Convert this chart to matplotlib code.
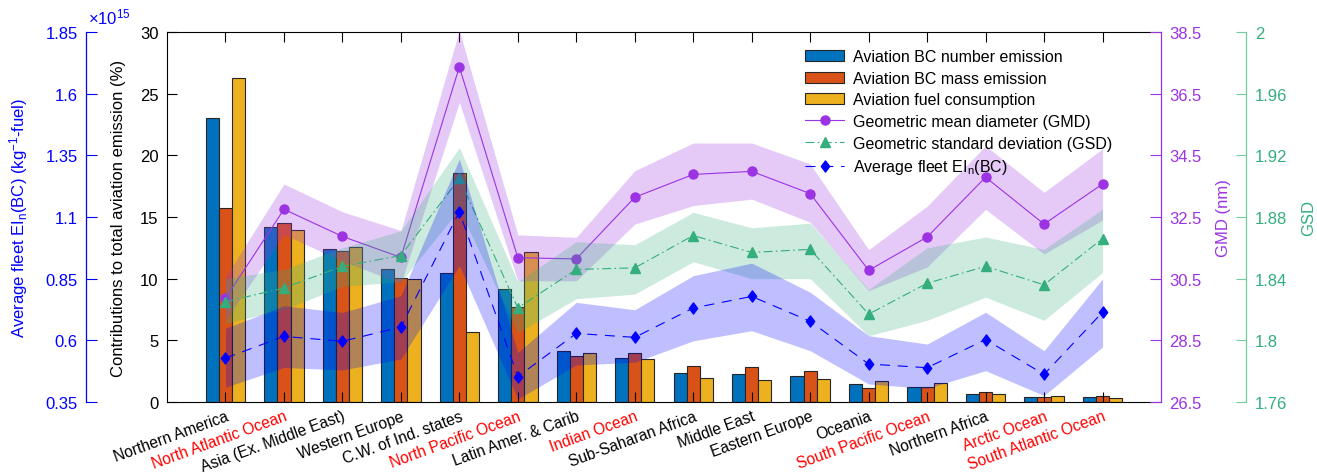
import matplotlib
matplotlib.use('Agg')
import matplotlib.pyplot as plt
import numpy as np
from matplotlib.path import Path

plt.rcParams['font.family'] = ['Liberation Sans', 'DejaVu Sans']
plt.rcParams['mathtext.fontset'] = 'custom'
plt.rcParams['mathtext.rm'] = 'Liberation Sans'
plt.rcParams['mathtext.it'] = 'Liberation Sans:italic'
plt.rcParams['mathtext.bf'] = 'Liberation Sans:bold'

# ---------------- data ----------------
regions = ['Northern America', 'North Atlantic Ocean', 'Asia (Ex. Middle East)',
           'Western Europe', 'C.W. of Ind. states', 'North Pacific Ocean',
           'Latin Amer. & Carib', 'Indian Ocean', 'Sub-Saharan Africa',
           'Middle East', 'Eastern Europe', 'Oceania', 'South Pacific Ocean',
           'Northern Africa', 'Arctic Ocean', 'South Atlantic Ocean']
is_ocean = [False, True, False, False, False, True, False, True, False,
            False, False, False, True, False, True, True]

bc_number = [23.0, 14.17, 12.4, 10.79, 10.5, 9.16, 4.14, 3.54, 2.35, 2.27,
             2.11, 1.43, 1.19, 0.65, 0.41, 0.41]
bc_mass = [15.73, 14.52, 12.22, 10.06, 18.6, 7.73, 3.76, 3.97, 2.92, 2.81,
           2.51, 1.14, 1.19, 0.78, 0.41, 0.49]
fuel = [26.25, 13.95, 12.6, 9.97, 5.65, 12.2, 3.97, 3.49, 1.95, 1.78,
        1.89, 1.68, 1.51, 0.65, 0.49, 0.32]

gmd = [29.86, 32.75, 31.87, 31.19, 37.37, 31.18, 31.14, 33.14, 33.88, 33.98,
       33.26, 30.77, 31.85, 33.79, 32.27, 33.57]
gmd_hi = [30.55, 33.57, 32.67, 32.06, 38.55, 31.92, 31.84, 34.0, 34.9, 34.9,
          34.22, 31.44, 32.85, 34.81, 33.3, 34.71]
gmd_lo = [29.15, 31.93, 31.07, 30.35, 36.22, 30.43, 30.43, 32.27, 32.87, 33.08,
          32.33, 30.11, 30.88, 32.75, 31.3, 32.4]

gsd = [1.825, 1.834, 1.848, 1.855, 1.905, 1.821, 1.846, 1.847, 1.868, 1.857,
       1.859, 1.817, 1.837, 1.848, 1.836, 1.866]
gsd_hi = [1.840, 1.846, 1.860, 1.871, 1.925, 1.838, 1.864, 1.862, 1.883, 1.873,
          1.876, 1.833, 1.860, 1.867, 1.859, 1.885]
gsd_lo = [1.811, 1.820, 1.835, 1.838, 1.885, 1.805, 1.827, 1.830, 1.851, 1.840,
          1.840, 1.803, 1.813, 1.828, 1.813, 1.844]

# average fleet EI_n(BC), in units of 1e15 per kg fuel
ei = [0.528, 0.616, 0.596, 0.654, 1.121, 0.453, 0.628, 0.612, 0.731, 0.778,
      0.677, 0.504, 0.489, 0.603, 0.462, 0.714]
ei_hi = [0.649, 0.740, 0.713, 0.781, 1.335, 0.551, 0.754, 0.724, 0.862, 0.913,
         0.795, 0.619, 0.585, 0.714, 0.558, 0.849]
ei_lo = [0.41, 0.49, 0.48, 0.524, 0.903, 0.362, 0.50, 0.511, 0.598, 0.639,
         0.558, 0.423, 0.405, 0.477, 0.376, 0.573]

pct_ticks = [0, 5, 10, 15, 20, 25, 30]
gmd_ticks = [26.5, 28.5, 30.5, 32.5, 34.5, 36.5, 38.5]
gsd_ticks = [1.76, 1.8, 1.84, 1.88, 1.92, 1.96, 2.0]
gsd_ticklabels = ['1.76', '1.8', '1.84', '1.88', '1.92', '1.96', '2']
ei_ticks = [0.35, 0.6, 0.85, 1.1, 1.35, 1.6, 1.85]
ei_ticklabels = ['0.35', '0.6', '0.85', '1.1', '1.35', '1.6', '1.85']

# ---------------- styles ----------------
C_BLUE = '#0072BD'
C_ORANGE = '#D95319'
C_YELLOW = '#EDB120'
C_PURPLE = '#9B33E3'
C_GREEN = '#34AE7C'
C_GREEN_AX = '#70CBA2'
C_EI = '#0000FF'
EDGE = '#262626'
FS = 12

W_PX, H_PX = 1317, 477
fig = plt.figure(figsize=(W_PX / 100, H_PX / 100), dpi=100)
L, R, T, B = 167, 1161, 33, 403
ax = fig.add_axes([L / W_PX, 1 - B / H_PX, (R - L) / W_PX, (B - T) / H_PX])
axw = R - L

x = np.arange(len(regions))
w = 0.225
b1 = ax.bar(x - w, bc_number, w, color=C_BLUE, edgecolor=EDGE, linewidth=0.8)
b2 = ax.bar(x, bc_mass, w, color=C_ORANGE, edgecolor=EDGE, linewidth=0.8)
b3 = ax.bar(x + w, fuel, w, color=C_YELLOW, edgecolor=EDGE, linewidth=0.8)
ax.set_xlim(-1, 16)
ax.set_ylim(0, 30)
ax.set_yticks(pct_ticks)
ax.set_xticks(x)
ax.set_xticklabels(regions, rotation=20, ha='right', va='top',
                   rotation_mode='anchor', fontsize=11.2)
for lab, oc in zip(ax.get_xticklabels(), is_ocean):
    lab.set_color('red' if oc else 'black')
ax.tick_params(axis='x', direction='in', length=7, width=0.8, top=True,
               bottom=True, pad=4.5)
ax.tick_params(axis='y', direction='in', length=7, width=0.8, right=False,
               labelsize=FS, pad=6)
ax.spines['right'].set_visible(False)
for s in ['left', 'top', 'bottom']:
    ax.spines[s].set_linewidth(0.8)
ax.set_ylabel('Contributions to total aviation emission (%)', fontsize=FS)
ax.yaxis.set_label_coords((118 - L) / axw, 0.5)
ax.yaxis.label.set_verticalalignment('center')

# GMD axis (right)
ax_gmd = ax.twinx()
ax_gmd.fill_between(x, gmd_lo, gmd_hi, color=C_PURPLE, alpha=0.26, lw=0)
l_gmd, = ax_gmd.plot(x, gmd, '-', color=C_PURPLE, lw=0.8, marker='o', ms=6.5,
                     label='Geometric mean diameter (GMD)')
ax_gmd.set_ylim(26.5, 38.5)
ax_gmd.set_yticks(gmd_ticks)
ax_gmd.set_yticklabels([f'{t:g}' for t in gmd_ticks])
for s in ['left', 'top', 'bottom']:
    ax_gmd.spines[s].set_visible(False)
ax_gmd.spines['right'].set_color(C_PURPLE)
ax_gmd.spines['right'].set_linewidth(0.9)
ax_gmd.tick_params(axis='y', direction='in', length=8, width=0.8,
                   colors=C_PURPLE, labelsize=FS, pad=6)
ax_gmd.set_ylabel('GMD (nm)', color=C_PURPLE, fontsize=FS)
ax_gmd.yaxis.set_label_coords((1224 - L) / axw, 0.5)
ax_gmd.yaxis.label.set_verticalalignment('center')

# GSD axis (far right)
ax_gsd = ax.twinx()
ax_gsd.fill_between(x, gsd_lo, gsd_hi, color=C_GREEN, alpha=0.25, lw=0)
l_gsd, = ax_gsd.plot(x, gsd, color=C_GREEN, lw=0.8, linestyle=(0, (8, 3, 1.5, 3)),
                     marker='^', ms=7,
                     label='Geometric standard deviation (GSD)')
ax_gsd.set_ylim(1.76, 2.0)
ax_gsd.set_yticks(gsd_ticks)
ax_gsd.set_yticklabels(gsd_ticklabels)
for s in ['left', 'top', 'bottom']:
    ax_gsd.spines[s].set_visible(False)
ax_gsd.spines['right'].set_position(('axes', 1 + 85.5 / axw))
ax_gsd.spines['right'].set_color(C_GREEN_AX)
ax_gsd.spines['right'].set_linewidth(0.9)
ax_gsd.tick_params(axis='y', direction='in', length=7, width=0.8,
                   color=C_GREEN_AX, labelcolor=C_GREEN, labelsize=FS, pad=6)
ax_gsd.set_ylabel('GSD', color=C_GREEN, fontsize=FS)
ax_gsd.yaxis.set_label_coords((1309 - L) / axw, 0.5)
ax_gsd.yaxis.label.set_verticalalignment('center')

# EI axis (far left)
diamond = Path([(0, 1), (0.75, 0), (0, -1), (-0.75, 0), (0, 1)],
               [Path.MOVETO, Path.LINETO, Path.LINETO, Path.LINETO, Path.CLOSEPOLY])
ax_ei = ax.twinx()
ax_ei.fill_between(x, ei_lo, ei_hi, color=C_EI, alpha=0.25, lw=0)
l_ei, = ax_ei.plot(x, ei, color=C_EI, lw=0.8, linestyle=(0, (9, 7)),
                   marker=diamond, ms=8, label=r'Average fleet EI$_\mathregular{n}$(BC)')
ax_ei.set_ylim(0.35, 1.85)
ax_ei.yaxis.tick_left()
ax_ei.yaxis.set_label_position('left')
ax_ei.set_yticks(ei_ticks)
ax_ei.set_yticklabels(ei_ticklabels)
for s in ['right', 'top', 'bottom']:
    ax_ei.spines[s].set_visible(False)
ax_ei.spines['left'].set_visible(True)
ax_ei.spines['left'].set_position(('axes', -81 / axw))
ax_ei.spines['left'].set_color(C_EI)
ax_ei.spines['left'].set_linewidth(0.9)
ax_ei.tick_params(axis='y', direction='in', length=8, width=0.8,
                  colors=C_EI, labelsize=FS, pad=6)
ax_ei.set_ylabel(r'Average fleet EI$_\mathregular{n}$(BC) (kg$^{\mathregular{-1}}$-fuel)',
                 color=C_EI, fontsize=FS)
ax_ei.yaxis.set_label_coords((19 - L) / axw, 0.5)
ax_ei.yaxis.label.set_verticalalignment('center')
ax_ei.text((88 - L) / axw, 1 + (T - 17) / (B - T), r'×10$^{\mathregular{15}}$',
           transform=ax.transAxes, color=C_EI, fontsize=FS, ha='left', va='center')

handles = [b1, b2, b3, l_gmd, l_gsd, l_ei]
labels = ['Aviation BC number emission', 'Aviation BC mass emission',
          'Aviation fuel consumption', 'Geometric mean diameter (GMD)',
          'Geometric standard deviation (GSD)', r'Average fleet EI$_\mathregular{n}$(BC)']
fig.legend(handles, labels, loc='upper left',
           bbox_to_anchor=(799 / W_PX, 1 - 44 / H_PX), frameon=False,
           fontsize=11.5, handlelength=2.4, handletextpad=0.55,
           labelspacing=0.41, borderpad=0.4, borderaxespad=0)

fig.savefig('out.png', dpi=100)
